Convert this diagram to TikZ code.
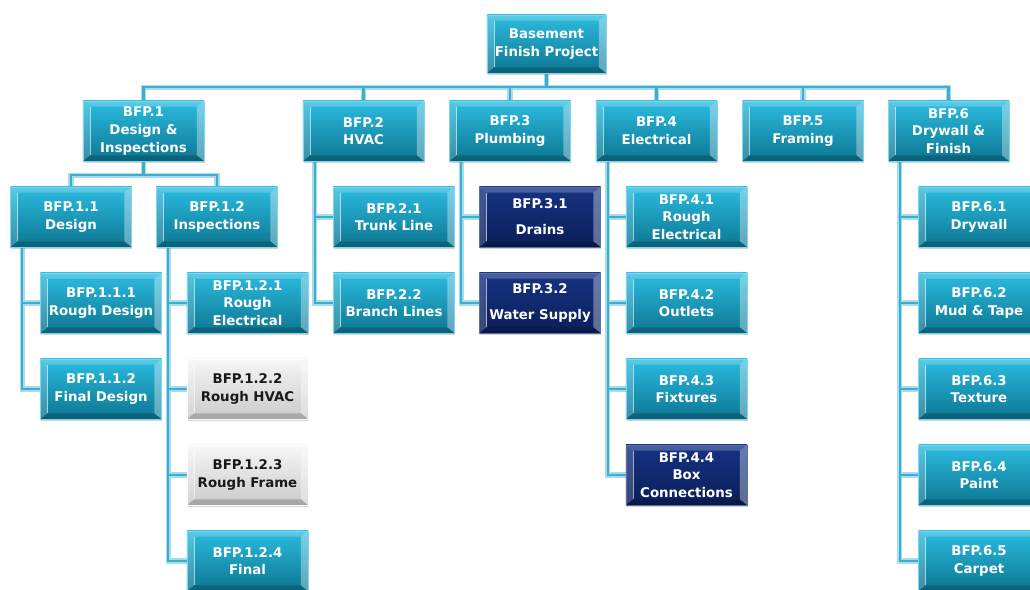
\documentclass[tikz,border=0pt]{standalone}
\usepackage{fontspec}
\setmainfont{DejaVu Sans}
\usetikzlibrary{calc,shadows,backgrounds}

\definecolor{wbstop}{HTML}{2CBCE0}
\definecolor{wbsbot}{HTML}{0C7692}
\definecolor{navytop}{HTML}{163383}
\definecolor{navybot}{HTML}{0A1E58}
\definecolor{greytop}{HTML}{F6F6F6}
\definecolor{greybot}{HTML}{CBCBCB}
\definecolor{linkedge}{HTML}{A6DCEB}
\definecolor{linkmid}{HTML}{3CAFCF}

% bevelled frame drawn inside every box
\tikzset{
  bevel/.style={path picture={
    \path (path picture bounding box.north west) coordinate (pw)
          (path picture bounding box.south east) coordinate (pe);
    % left and right bevels
    \fill[white,opacity=.18] (pw) -- (pw|-pe) -- ($(pw|-pe)+(5pt,4pt)$) -- ($(pw)+(5pt,-4pt)$) -- cycle;
    \fill[white,opacity=.35] (pe|-pw) -- (pe) -- ($(pe)+(-5pt,4pt)$) -- ($(pe|-pw)+(-5pt,-4pt)$) -- cycle;
    % top and bottom bevels
    \fill[white,opacity=.22] (pw) -- (pe|-pw) -- ($(pe|-pw)+(-5pt,-4pt)$) -- ($(pw)+(5pt,-4pt)$) -- cycle;
    \fill[black,opacity=.18] (pw|-pe) -- (pe) -- ($(pe)+(-5pt,4pt)$) -- ($(pw|-pe)+(5pt,4pt)$) -- cycle;
    % bright inner edge on the left
    \draw[white,opacity=.6,line width=.6pt] ($(pw)+(5pt,-4pt)$) -- ($(pw|-pe)+(5pt,4pt)$);
  }},
  wbs/.style={bevel, rectangle, align=center, text=white,
    font=\bfseries\fontsize{9.5}{12.5}\selectfont,
    minimum width=3.025cm, minimum height=1.5cm, inner sep=2pt,
    top color=wbstop, bottom color=wbsbot, draw=wbstop!60!white, line width=.4pt,
    drop shadow={shadow xshift=.6pt, shadow yshift=-1.6pt, opacity=.35}},
  wbsnavy/.style={wbs, top color=navytop, bottom color=navybot, draw=navytop!70!white},
  wbsgrey/.style={wbs, text=black!90, top color=greytop, bottom color=greybot, draw=white}
}

% all connectors of the breakdown, drawn twice (edge, then centre)
\newcommand\wbslinks{%
  \foreach \n in {b1,b2,b3,b4,b5,b6}
    \draw[link] (root.south) -- ++(0,14) -| (\n.north);
  \draw[link] (b1.south) -- ++(0,14) -| (b11.north);
  \draw[link] (b1.south) -- ++(0,14) -| (b12.north);
  \foreach \p/\cs in {b11/{b111,b112}, b12/{b121,b122,b123,b124}, b2/{b21,b22},
                      b3/{b31,b32}, b4/{b41,b42,b43,b44}, b6/{b61,b62,b63,b64,b65}}
    \foreach \c in \cs
      \draw[link] ($(\p.south west)+(12,0)$) |- (\c.west);
}

\begin{document}
\begin{tikzpicture}[x=0.025cm, y=-0.025cm]
    \useasboundingbox (0,0) rectangle (1030,590);

    % Project
    \node[wbs, minimum width=2.975cm, minimum height=1.45cm] (root) at (546.5,44) {Basement\\Finish Project};

    % First level
    \node[wbs] (b1) at (143.5,131) {BFP.1\\Design \&\\Inspections};
    \node[wbs] (b2) at (363.5,131) {BFP.2\\HVAC};
    \node[wbs] (b3) at (510,131)   {BFP.3\\Plumbing};
    \node[wbs] (b4) at (656.5,131) {BFP.4\\Electrical};
    \node[wbs] (b5) at (803,131)   {BFP.5\\Framing};
    \node[wbs] (b6) at (948.5,131) {BFP.6\\Drywall \&\\Finish};

    % Design & Inspections
    \node[wbs] (b11) at (71,217)  {BFP.1.1\\Design};
    \node[wbs] (b12) at (217,217) {BFP.1.2\\Inspections};
    \node[wbs] (b111) at (101,303) {BFP.1.1.1\\Rough Design};
    \node[wbs] (b112) at (101,389) {BFP.1.1.2\\Final Design};
    \node[wbs]     (b121) at (247.5,303) {BFP.1.2.1\\Rough\\Electrical};
    \node[wbsgrey] (b122) at (247.5,389) {BFP.1.2.2\\Rough HVAC};
    \node[wbsgrey] (b123) at (247.5,475) {BFP.1.2.3\\Rough Frame};
    \node[wbs]     (b124) at (247.5,561) {BFP.1.2.4\\Final};

    % HVAC and Plumbing
    \node[wbs] (b21) at (394,217) {BFP.2.1\\Trunk Line};
    \node[wbs] (b22) at (394,303) {BFP.2.2\\Branch Lines};
    \node[wbsnavy] (b31) at (540,217) {BFP.3.1\\[6pt]Drains};
    \node[wbsnavy] (b32) at (540,303) {BFP.3.2\\[6pt]Water Supply};

    % Electrical
    \node[wbs] (b41) at (686.5,217) {BFP.4.1\\Rough\\Electrical};
    \node[wbs] (b42) at (686.5,303) {BFP.4.2\\Outlets};
    \node[wbs] (b43) at (686.5,389) {BFP.4.3\\Fixtures};
    \node[wbsnavy] (b44) at (686.5,475) {BFP.4.4\\Box\\Connections};

    % Drywall & Finish
    \node[wbs] (b61) at (979,217) {BFP.6.1\\Drywall};
    \node[wbs] (b62) at (979,303) {BFP.6.2\\Mud \& Tape};
    \node[wbs] (b63) at (979,389) {BFP.6.3\\Texture};
    \node[wbs] (b64) at (979,475) {BFP.6.4\\Paint};
    \node[wbs] (b65) at (979,561) {BFP.6.5\\Carpet};

    % Connectors behind the boxes
    \begin{scope}[on background layer, link/.style={draw=linkedge, line width=3.6pt}]
        \wbslinks
    \end{scope}
    \begin{scope}[on background layer, link/.style={draw=linkmid, line width=1.6pt}]
        \wbslinks
    \end{scope}
\end{tikzpicture}
\end{document}
